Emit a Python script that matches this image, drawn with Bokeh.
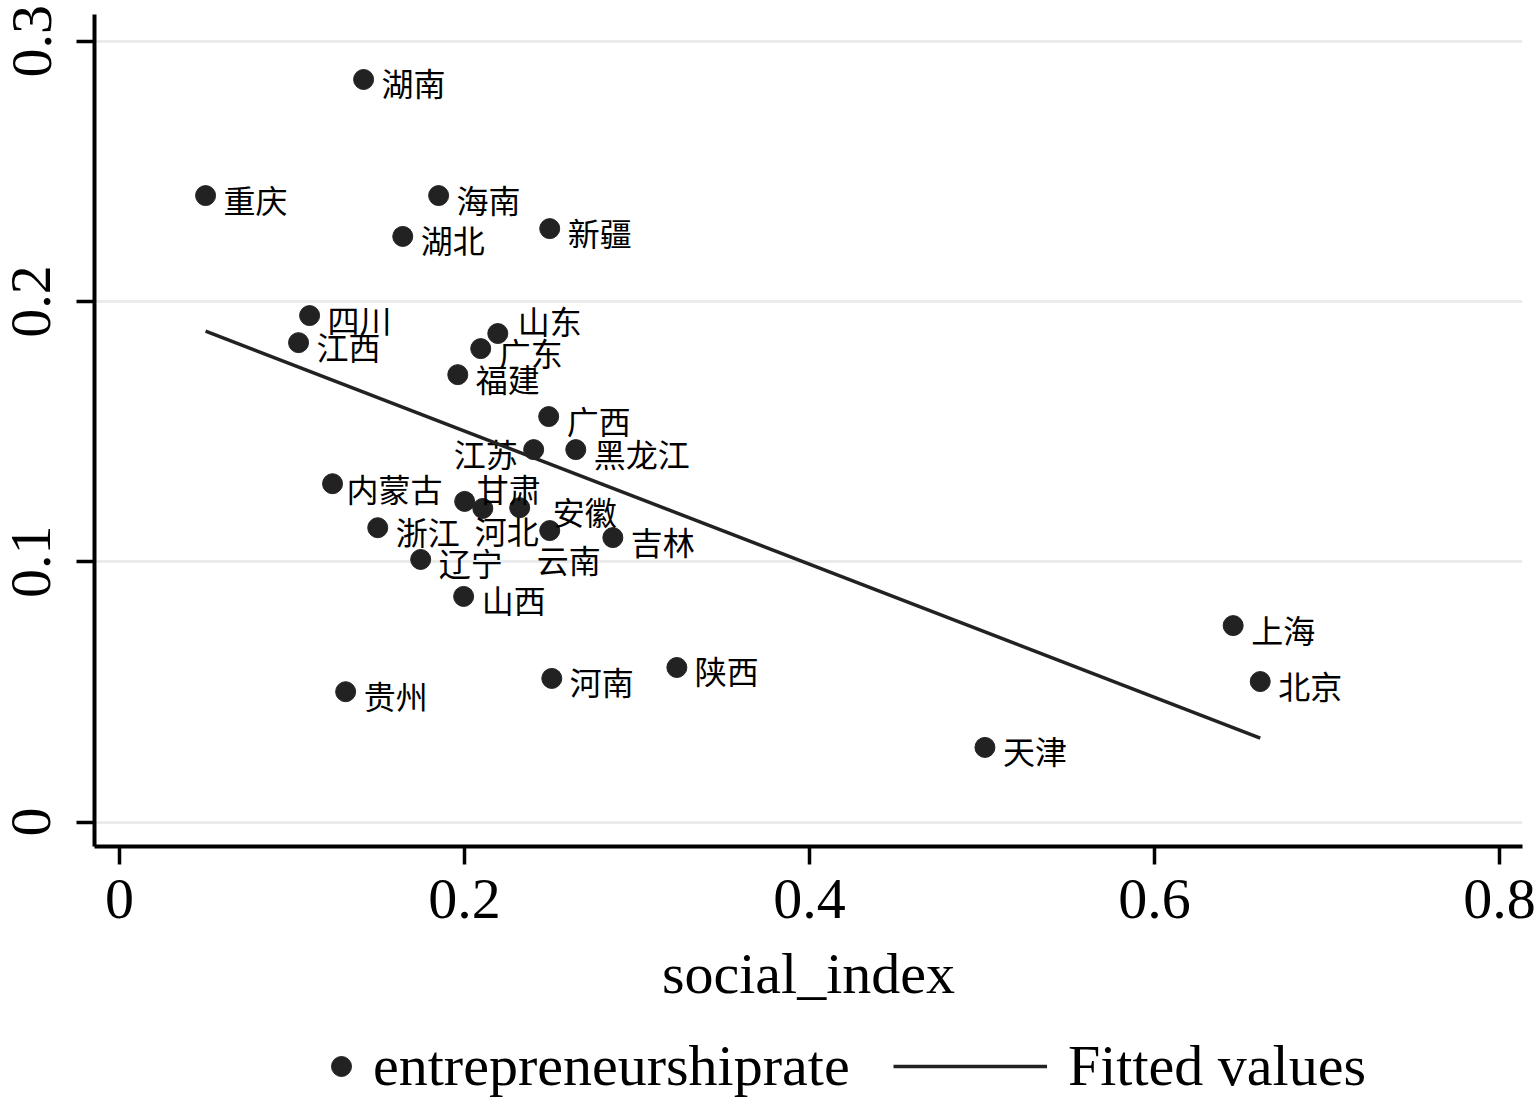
from bokeh.plotting import figure
from bokeh.layouts import column
from bokeh.models import (Range1d, FixedTicker, PrintfTickFormatter, Legend,
                          LegendItem, ColumnDataSource)
from bokeh.embed import file_html
from bokeh.resources import INLINE
from bokeh.core.properties import value

# ---------------- data ----------------
provinces = ["湖南", "重庆", "海南", "湖北", "新疆", "四川", "江西", "山东", "广东",
             "福建", "广西", "江苏", "黑龙江", "内蒙古", "甘肃", "河北", "安徽", "云南",
             "浙江", "吉林", "辽宁", "山西", "贵州", "河南", "陕西", "上海", "北京", "天津"]
social_index = [0.1415, 0.0499, 0.1850, 0.1642, 0.2494, 0.1102, 0.1038, 0.2193, 0.2094,
                0.1961, 0.2488, 0.2401, 0.2645, 0.1235, 0.2001, 0.2106, 0.2320, 0.2494,
                0.1497, 0.2860, 0.1746, 0.1995, 0.1311, 0.2506, 0.3231, 0.6456, 0.6613, 0.5017]
entrepreneurship_rate = [0.2853, 0.2407, 0.2407, 0.2250, 0.2280, 0.1946, 0.1842, 0.1877,
                         0.1819, 0.1719, 0.1558, 0.1431, 0.1431, 0.1300, 0.1232, 0.1205,
                         0.1208, 0.1120, 0.1131, 0.1093, 0.1009, 0.0867, 0.0501, 0.0552,
                         0.0594, 0.0755, 0.0540, 0.0287]
fit_x = [0.0499, 0.6613]
fit_y = [0.1886, 0.0323]
x_ticks = [0, 0.2, 0.4, 0.6, 0.8]
y_ticks = [0, 0.1, 0.2, 0.3]
legend_labels = ["entrepreneurshiprate", "Fitted values"]

# ---------------- label placement (style) ----------------
DEFAULT_OFF = (18, 3, "left")
LABEL_OFF = {
    "山东": (20, -14, "left"),
    "甘肃": (12, -13, "left"),
    "河北": (-8, 22, "left"),
    "云南": (-13, 28, "left"),
    "安徽": (33, 3, "left"),
    "江苏": (-16, 3, "right"),
    "内蒙古": (14, 4, "left"),
}
dx, dy, al = [], [], []
for n in provinces:
    o = LABEL_OFF.get(n, DEFAULT_OFF)
    dx.append(o[0]); dy.append(o[1]); al.append(o[2])

SERIF = "Liberation Serif"
DARK = "#222222"
W = 1539
H_MAIN = 1030
H_LEG = 1099 - H_MAIN
SHIFT = 14                      # extra room for the y tick labels, pulled back with a negative margin
FRAME_LEFT = 94
CANVAS_LEFT = FRAME_LEFT + SHIFT

p = figure(width=W + 2 * SHIFT, height=H_MAIN, output_backend="svg", toolbar_location=None,
           x_range=Range1d(-0.01449, 0.81333), y_range=Range1d(-0.00937, 0.31026),
           min_border_left=CANVAS_LEFT, min_border_top=14, min_border_right=17,
           min_border_bottom=H_MAIN - 846)
p.margin = (0, 0, 0, -SHIFT)
p.outline_line_color = None
p.background_fill_color = "white"
p.border_fill_color = "white"

for ax in (p.xaxis[0], p.yaxis[0]):
    ax.axis_line_width = 4
    ax.axis_line_color = "black"
    ax.major_tick_line_width = 3.5
    ax.major_tick_line_color = "black"
    ax.major_tick_out = 18
    ax.major_tick_in = 0
    ax.minor_tick_line_color = None
    ax.major_label_text_font = SERIF
    ax.major_label_text_font_size = "58px"
    ax.major_label_text_color = "black"
    ax.formatter = PrintfTickFormatter(format="%g")

p.xaxis.ticker = FixedTicker(ticks=x_ticks)
p.yaxis.ticker = FixedTicker(ticks=y_ticks)
p.yaxis.major_label_orientation = "vertical"
p.yaxis.major_label_standoff = 12 + SHIFT
p.xaxis.major_label_standoff = 15
p.xaxis.axis_label = "social_index"
p.xaxis.axis_label_text_font = SERIF
p.xaxis.axis_label_text_font_size = "58px"
p.xaxis.axis_label_text_font_style = "normal"
p.xaxis.axis_label_text_color = "black"
p.xaxis.axis_label_standoff = 20

p.xgrid.grid_line_color = None
p.ygrid.ticker = FixedTicker(ticks=y_ticks)
p.ygrid.grid_line_color = "#ebebeb"
p.ygrid.grid_line_width = 3

src = ColumnDataSource(dict(x=social_index, y=entrepreneurship_rate, name=provinces,
                            dx=dx, dy=dy, al=al))
p.scatter("x", "y", source=src, size=20, fill_color=DARK, line_color=DARK)
p.text("x", "y", text="name", source=src, x_offset="dx", y_offset="dy",
       text_align="al", text_baseline="middle",
       text_font=value("Noto Sans CJK SC"), text_font_size="32px", text_color="black")
p.line(fit_x, fit_y, line_color=DARK, line_width=3.5)

# ---------------- legend strip ----------------
# keys reuse the chart's series; the strip's ranges lie away from them so only the keys show
lg = figure(width=W, height=H_LEG, output_backend="svg", toolbar_location=None,
            x_axis_location=None, y_axis_location=None,
            x_range=Range1d(5, 6), y_range=Range1d(5, 6),
            min_border_left=CANVAS_LEFT, min_border_right=0, min_border_top=0,
            min_border_bottom=0)
lg.outline_line_color = None
lg.grid.visible = False
lg.background_fill_color = "white"
lg.border_fill_color = "white"
k_pts = lg.scatter(x=social_index, y=entrepreneurship_rate, size=20,
                   fill_color=DARK, line_color=DARK)
k_fit = lg.line(x=fit_x, y=fit_y, line_color=DARK, line_width=3.5)

common = dict(orientation="horizontal", padding=0, margin=0, border_line_color=None,
              background_fill_alpha=0, label_text_font=SERIF, label_text_font_size="58px",
              label_text_color="black", glyph_height=64)
leg1 = Legend(items=[LegendItem(label=legend_labels[0], renderers=[k_pts])],
              location=(316 - CANVAS_LEFT, 0), glyph_width=50, label_standoff=7, **common)
leg2 = Legend(items=[LegendItem(label=legend_labels[1], renderers=[k_fit])],
              location=(893 - CANVAS_LEFT, 0), glyph_width=154, label_standoff=21, **common)
lg.add_layout(leg1)
lg.add_layout(leg2)

open("out.html", "w").write(file_html(column(p, lg, spacing=0), INLINE))
